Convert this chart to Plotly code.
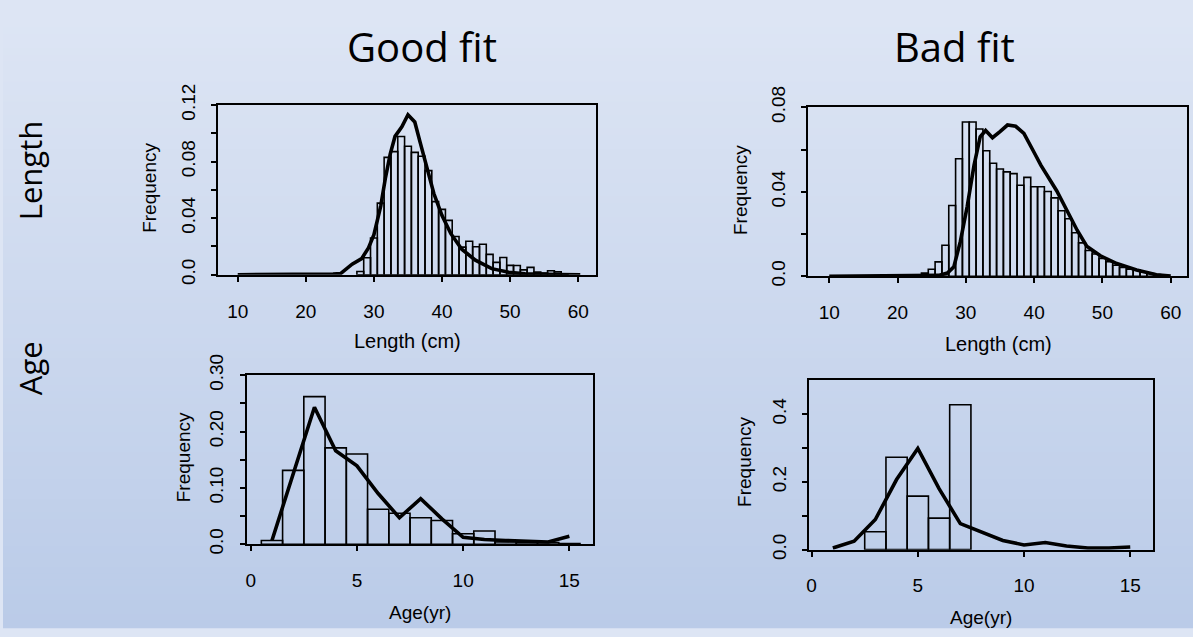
import plotly.graph_objects as go

# ---------------- data ----------------
len_bins_good = list(range(28, 59))
len_freq_good = [0.0023, 0.012, 0.026, 0.0506, 0.083, 0.087, 0.0977, 0.0908, 0.0865, 0.0838,
                 0.0736, 0.0517, 0.0462, 0.0384, 0.027, 0.0195, 0.0237, 0.0198, 0.0215, 0.0144,
                 0.0087, 0.0122, 0.0066, 0.0065, 0.0034, 0.0052, 0.0018, 0.0011, 0.0028, 0.002,
                 0.0007]
len_fit_good_x = [10, 15, 20, 22, 24, 25.1, 26, 26.8, 28.2, 29.2, 30, 31, 31.7, 32.4, 33.1, 34.1,
                  35, 36, 36.8, 37.8, 38.8, 40, 41.3, 42.9, 44.9, 47.3, 49.8, 52.2, 54.6, 57, 60.3]
len_fit_good_y = [0, 0, 0, 0.0002, 0.0004, 0.0008, 0.004, 0.0075, 0.0114, 0.019, 0.0283, 0.0485,
                  0.0687, 0.0855, 0.0978, 0.1046, 0.1131, 0.108, 0.0934, 0.0754, 0.0574, 0.0418,
                  0.029, 0.018, 0.0103, 0.0043, 0.0018, 0.0007, 0.0002, 0.0001, 0]

len_bins_bad = list(range(24, 60))
len_freq_bad = [0.0015, 0.0033, 0.0068, 0.0147, 0.0335, 0.0556, 0.073, 0.073, 0.0697, 0.0594,
                0.0535, 0.0508, 0.0494, 0.0486, 0.0431, 0.0468, 0.0424, 0.0424, 0.0401, 0.0371,
                0.031, 0.0272, 0.0206, 0.0158, 0.0122, 0.0105, 0.0084, 0.0069, 0.0052, 0.0042,
                0.0033, 0.003, 0.0021, 0.0013, 0.0008, 0.0004]
len_fit_bad_x = [10, 15, 20, 24, 26, 27.3, 28.25, 29.2, 30.2, 31.2, 32.1, 32.9, 33.9, 35.0, 36.1,
                 37.3, 38.5, 40, 41, 43.3, 44.8, 46.3, 47.7, 49.7, 52.1, 55.0, 57.9, 60]
len_fit_bad_y = [0, 0, 0, 0.0001, 0.0004, 0.0015, 0.0045, 0.0165, 0.033, 0.0525, 0.066, 0.069,
                 0.0656, 0.0685, 0.0716, 0.071, 0.0676, 0.0586, 0.0525, 0.0405, 0.0308, 0.0218,
                 0.0142, 0.0097, 0.006, 0.003, 0.0007, 0.0001]

age_bins_good = list(range(1, 16))
age_freq_good = [0.0067, 0.131, 0.262, 0.171, 0.160, 0.062, 0.055, 0.047, 0.042, 0.0185,
                 0.0236, 0.004, 0.003, 0.003, 0.001]
age_fit_x = list(range(1, 16))
age_fit_good = [0.0067, 0.125, 0.243, 0.166, 0.139, 0.090, 0.047, 0.081, 0.045, 0.0124,
                0.0084, 0.0067, 0.0056, 0.004, 0.014]

age_bins_bad = [3, 4, 5, 6, 7]
age_freq_bad = [0.053, 0.273, 0.158, 0.093, 0.428]
age_fit_bad = [0.005, 0.025, 0.089, 0.207, 0.299, 0.18, 0.077, 0.051, 0.027, 0.014,
               0.021, 0.011, 0.005, 0.005, 0.008]

col_titles = ["Good fit", "Bad fit"]
row_titles = ["Length", "Age"]
len_xtitle = "Length (cm)"
age_xtitle = "Age(yr)"
ytitle = "Frequency"

len_xticks = [10, 20, 30, 40, 50, 60]
age_xticks = [0, 5, 10, 15]
y1_ticks = [0, 0.02, 0.04, 0.06, 0.08, 0.10, 0.12]
y1_text = ["0.0", "", "0.04", "", "0.08", "", "0.12"]
y2_ticks = [0, 0.02, 0.04, 0.06, 0.08]
y2_text = ["0.0", "", "0.04", "", "0.08"]
y3_ticks = [0, 0.05, 0.10, 0.15, 0.20, 0.25, 0.30]
y3_text = ["0.0", "", "0.10", "", "0.20", "", "0.30"]
y4_ticks = [0, 0.1, 0.2, 0.3, 0.4]
y4_text = ["0.0", "", "0.2", "", "0.4"]

# ---------------- layout helpers ----------------
W, H = 1193, 637
def fx(p):
    return p / W
def fy(p):
    return 1 - p / H

AX_FONT = "Liberation Sans, Arial, sans-serif"
TITLE_FONT = "Open Sans, sans-serif"

fig = go.Figure()

bar_style = dict(marker=dict(color="rgba(0,0,0,0)", line=dict(color="black", width=1.6)),
                 width=1.0, hoverinfo="skip", showlegend=False)
line_style = dict(mode="lines", line=dict(color="black", width=3.6), hoverinfo="skip",
                  showlegend=False)

fig.add_trace(go.Bar(x=len_bins_good, y=len_freq_good, xaxis="x", yaxis="y", **bar_style))
fig.add_trace(go.Scatter(x=len_fit_good_x, y=len_fit_good_y, xaxis="x", yaxis="y", **line_style))
fig.add_trace(go.Bar(x=len_bins_bad, y=len_freq_bad, xaxis="x2", yaxis="y2", **bar_style))
fig.add_trace(go.Scatter(x=len_fit_bad_x, y=len_fit_bad_y, xaxis="x2", yaxis="y2", **line_style))
fig.add_trace(go.Bar(x=age_bins_good, y=age_freq_good, xaxis="x3", yaxis="y3", **bar_style))
fig.add_trace(go.Scatter(x=age_fit_x, y=age_fit_good, xaxis="x3", yaxis="y3", **line_style))
fig.add_trace(go.Bar(x=age_bins_bad, y=age_freq_bad, xaxis="x4", yaxis="y4", **bar_style))
fig.add_trace(go.Scatter(x=age_fit_x, y=age_fit_bad, xaxis="x4", yaxis="y4", **line_style))

common = dict(showline=True, mirror=True, linecolor="black", linewidth=2,
              ticks="outside", ticklen=5, tickwidth=1.5, tickcolor="black",
              showgrid=False, zeroline=False, fixedrange=True,
              tickfont=dict(family=AX_FONT, size=19, color="black"))
xcommon = dict(common, ticklabelstandoff=13)
ycommon = dict(common, tickangle=-90, ticklabelstandoff=9)

panels = [
    ("", (216, 594), (88.3, 266.7), [7.17, 62.54], [0, 0.12], len_xticks, y1_ticks, y1_text),
    ("2", (807.3, 1186.7), (90.7, 268.3), [6.93, 62.34], [0, 0.08], len_xticks, y2_ticks, y2_text),
    ("3", (244.3, 591), (372.3, 550), [-0.19, 16.09], [0, 0.30], age_xticks, y3_ticks, y3_text),
    ("4", (808.3, 1153.3), (377.7, 555.7), [-0.11, 16.09], [0, 0.5], age_xticks, y4_ticks, y4_text),
]
layout_axes = {}
for suf, (xl, xr), (yt, yb), xr_, yr_, xt, yt_, ytx in panels:
    layout_axes["xaxis" + suf] = dict(xcommon, domain=[fx(xl), fx(xr)], range=xr_,
                                      tickvals=xt, ticktext=[str(v) for v in xt],
                                      anchor="y" + suf)
    layout_axes["yaxis" + suf] = dict(ycommon, domain=[fy(yb), fy(yt)], range=yr_,
                                      tickvals=yt_, ticktext=ytx, anchor="x" + suf)

# background gradient bands
top_c = (221, 229, 244)
bot_c = (186, 203, 232)
shapes = []
N = 90
for i in range(N):
    t = (i + 0.5) / N
    c = tuple(round(top_c[k] + (bot_c[k] - top_c[k]) * t) for k in range(3))
    shapes.append(dict(type="rect", xref="paper", yref="paper", x0=0, x1=1,
                       y0=1 - (i + 1) / N - 0.002, y1=1 - i / N,
                       fillcolor="rgb(%d,%d,%d)" % c, line=dict(width=0), layer="below"))

ann = []
def add_text(text, x, y, size, family, angle=0):
    ann.append(dict(text=text, x=fx(x), y=fy(y), xref="paper", yref="paper",
                    xanchor="center", yanchor="middle", showarrow=False, textangle=angle,
                    font=dict(family=family, size=size, color="black")))

add_text(col_titles[0], 420, 27, 40, TITLE_FONT)
add_text(col_titles[1], 954, 27, 40, TITLE_FONT)
add_text(row_titles[0], 27, 157, 31, TITLE_FONT, -90)
add_text(row_titles[1], 27, 365, 31, TITLE_FONT, -90)

add_text(len_xtitle, 405.7, 336.7, 20, AX_FONT)
add_text(len_xtitle, 998, 339.3, 20, AX_FONT)
add_text(age_xtitle, 418.3, 621.7, 19, AX_FONT)
add_text(age_xtitle, 980.7, 626.7, 19, AX_FONT)
add_text(ytitle, 146.7, 175, 19, AX_FONT, -90)
add_text(ytitle, 740, 177.5, 19, AX_FONT, -90)
add_text(ytitle, 181.7, 458.3, 19, AX_FONT, -90)
add_text(ytitle, 744, 463.3, 19, AX_FONT, -90)

fig.update_layout(
    width=W, height=H,
    margin=dict(l=0, r=0, t=0, b=0),
    paper_bgcolor="rgb(%d,%d,%d)" % top_c,
    plot_bgcolor="rgba(0,0,0,0)",
    showlegend=False,
    shapes=shapes,
    annotations=ann,
    **layout_axes,
)

fig.write_html("out.html", config={"displayModeBar": False},
               post_script="document.body.style.margin='0';document.body.style.overflow='hidden';")
